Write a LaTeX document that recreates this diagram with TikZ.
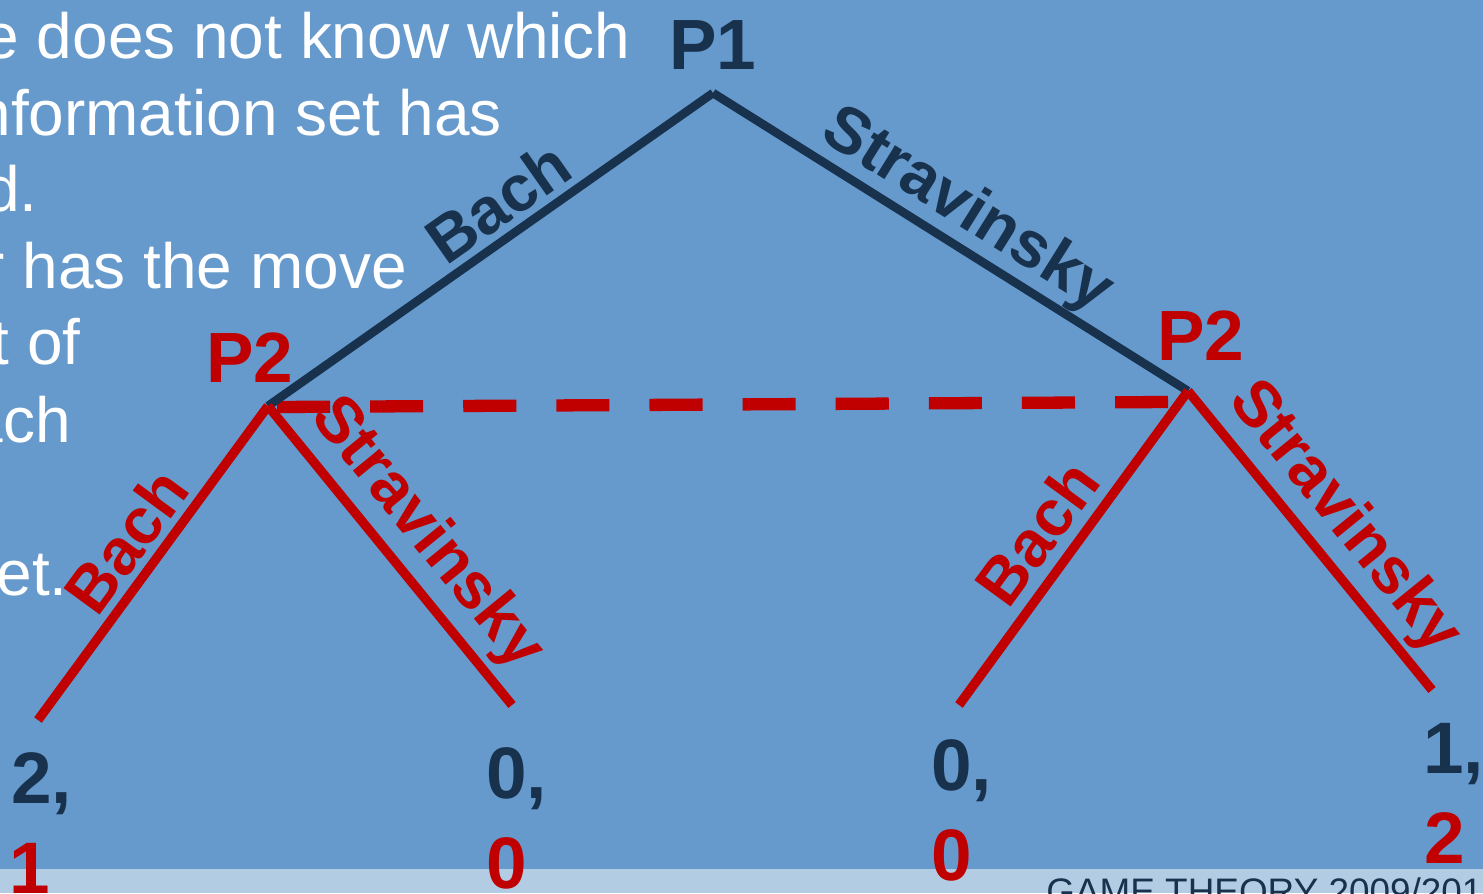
\documentclass[tikz,border=0pt]{standalone}
\usepackage{fontspec}
\setmainfont{Liberation Sans}
\definecolor{bgblue}{RGB}{102,153,204}
\definecolor{strip}{RGB}{178,204,228}
\definecolor{navy}{RGB}{24,50,77}
\definecolor{pred}{RGB}{192,0,0}
\begin{document}
\begin{tikzpicture}[x=0.02cm,y=-0.02cm,
  body/.style={font=\fontsize{36.4}{40}\selectfont, text=white, anchor=base east, inner sep=0pt},
  lbl/.style={font=\fontsize{37}{40}\selectfont\bfseries, inner sep=0pt},
  player/.style={font=\fontsize{40.5}{45}\selectfont\bfseries, inner sep=0pt, anchor=base},
  pay/.style={font=\fontsize{41.5}{45}\selectfont\bfseries, inner sep=0pt, anchor=base west},
  p1edge/.style={draw=navy, line width=4.9pt},
  p2edge/.style={draw=pred, line width=5.3pt},
  infoset/.style={draw=pred, line width=7pt, dash pattern=on 30.2pt off 22.8pt},
  footer/.style={font=\fontsize{21}{24}\selectfont, text=navy, anchor=base west, inner sep=0pt}]
\useasboundingbox (0,0) rectangle (1483,893);
\clip (0,0) rectangle (1483,893);
\fill[bgblue] (0,0) rectangle (1483,893);
\fill[strip] (0,869) rectangle (1483,893);

% body text (clipped at left)
\node[body] (t1) at (631,58) {e does not know which};
\node[body] (t2) at (502,135) {nformation set has};
\node[body] (t3) at (38,211) {d.};
\node[body] (t4) at (407,288) {r has the move};
\node[body] (t5) at (81,364) {t of};
\node[body] (t6) at (71,442) {ach};
\node[body] (t8) at (68,595) {et.};

% tree nodes
\coordinate (root) at (713,93);
\coordinate (l2) at (268,406);
\coordinate (r2) at (1188,391);
\coordinate (llb) at (38,720);
\coordinate (lls) at (512,705);
\coordinate (rlb) at (959,705);
\coordinate (rls) at (1432,690);
\coordinate (dsA) at (277,407);
\coordinate (dsB) at (1168,402);

\draw[infoset] (dsA) -- (dsB);
\draw[p1edge] (root) -- (l2);
\draw[p1edge] (root) -- (r2);
\draw[p2edge] (l2) -- (llb);
\draw[p2edge] (l2) -- (lls);
\draw[p2edge] (r2) -- (rlb);
\draw[p2edge] (r2) -- (rls);

% player labels
\node[player, text=navy] (P1) at (713,69) {P1};
\node[player, text=pred] (P2l) at (250,382) {P2};
\node[player, text=pred] (P2r) at (1201,360) {P2};

% edge labels
\node[lbl, text=navy, rotate=35.1] (eb1) at (498,202) {Bach};
\node[lbl, text=navy, rotate=-32] (es1) at (967,211) {Stravinsky};
\node[lbl, text=pred, rotate=53.8] (eb2) at (126,541) {Bach};
\node[lbl, text=pred, rotate=-50.8] (es2) at (426,534) {Stravinsky};
\node[lbl, text=pred, rotate=53.9] (eb3) at (1037,533) {Bach};
\node[lbl, text=pred, rotate=-50.9] (es3) at (1344,518) {Stravinsky};

% payoffs
\node[pay, text=navy] (u1a) at (11,803) {2,};
\node[pay, text=pred] (u1b) at (9,893) {1};
\node[pay, text=navy] (u2a) at (486,798) {0,};
\node[pay, text=pred] (u2b) at (486,888) {0};
\node[pay, text=navy] (u3a) at (931,790) {0,};
\node[pay, text=pred] (u3b) at (931,880) {0};
\node[pay, text=navy] (u4a) at (1423,773) {1,};
\node[pay, text=pred] (u4b) at (1424,863) {2};

% footer
\node[footer] (ft) at (1046,904) {GAME THEORY 2009/2010};
\end{tikzpicture}
\end{document}
